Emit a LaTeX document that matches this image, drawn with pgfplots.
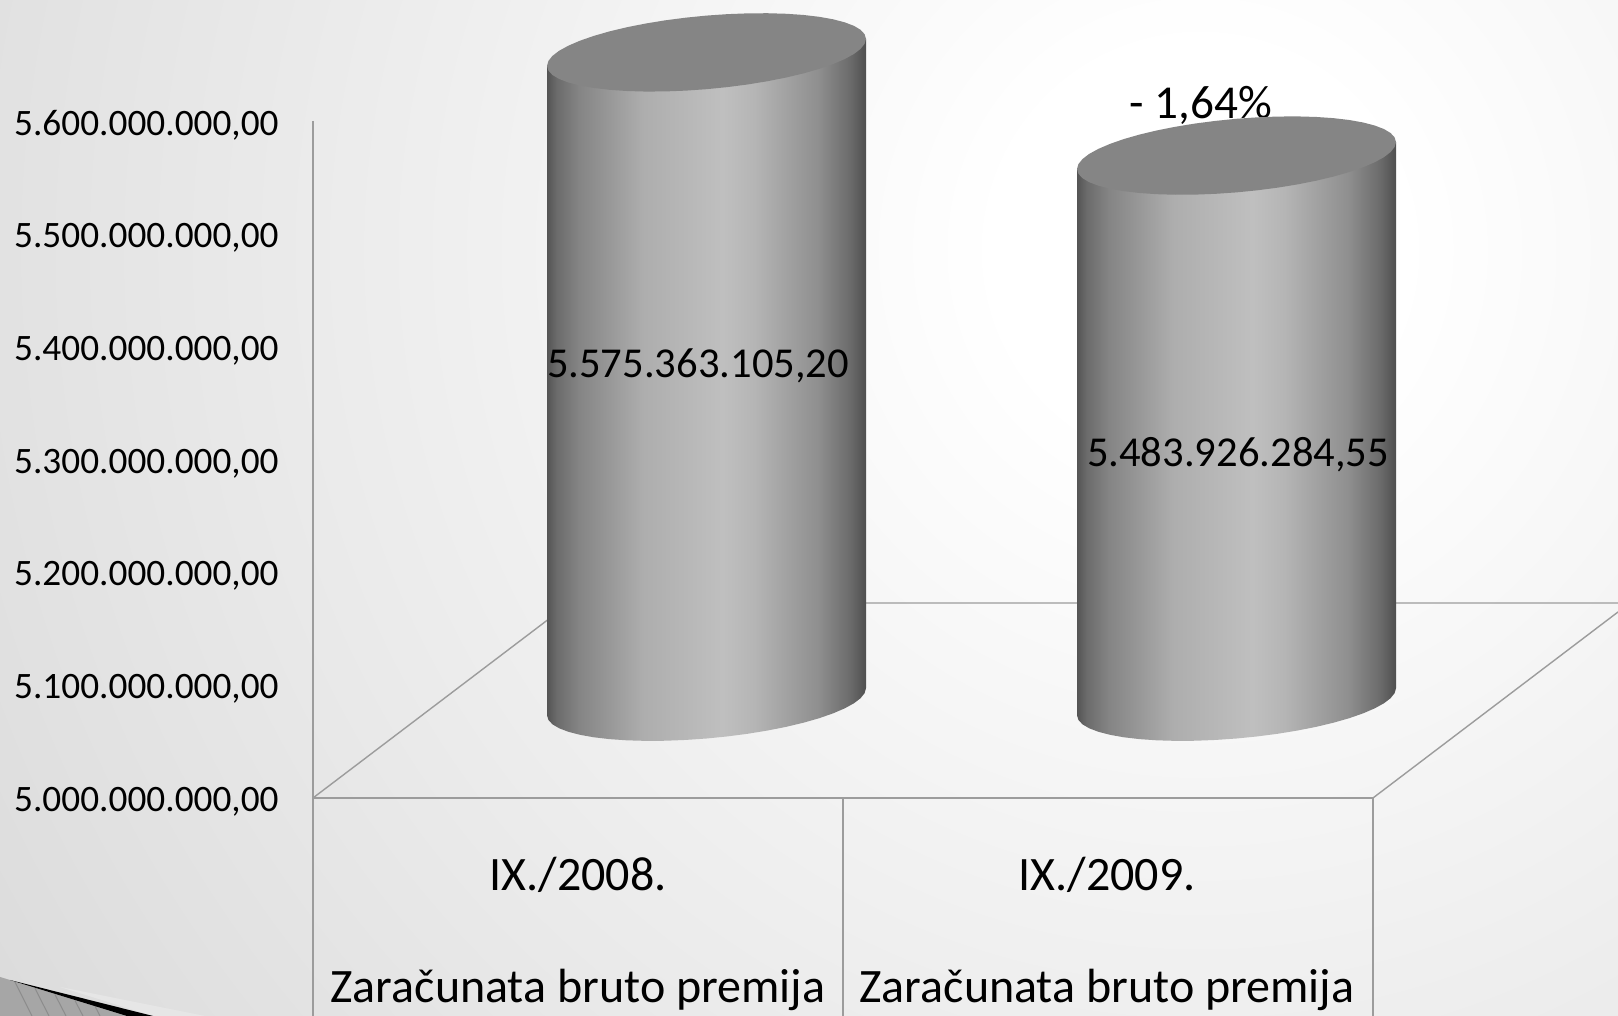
\documentclass[border=0pt]{standalone}
\usepackage{pgfplots}
\pgfplotsset{compat=1.18}
\usepackage{pgfplotstable}
\usepackage{fontspec}
\setmainfont{Carlito}
\definecolor{axisgray}{HTML}{9C9C9C}
\definecolor{capgray}{HTML}{858585}
\pgfdeclarehorizontalshading{cylshade}{100bp}{
 rgb(0bp)=(0.33,0.33,0.33); rgb(25bp)=(0.33,0.33,0.33);
 rgb(26.5bp)=(0.42,0.42,0.42); rgb(30bp)=(0.52,0.52,0.52);
 rgb(40bp)=(0.68,0.68,0.68); rgb(52.5bp)=(0.75,0.75,0.75);
 rgb(57.5bp)=(0.71,0.71,0.71); rgb(67.5bp)=(0.56,0.56,0.56);
 rgb(72.5bp)=(0.42,0.42,0.42); rgb(75bp)=(0.31,0.31,0.31);
 rgb(100bp)=(0.31,0.31,0.31)}
\pgfdeclareradialshading{bgshade}{\pgfpoint{0bp}{0bp}}{
 rgb(0bp)=(1,1,1); rgb(3.6bp)=(1,1,1); rgb(25bp)=(0.863,0.863,0.863); rgb(50bp)=(0.80,0.80,0.80)}
% cylinder outline, offsets in reference pixels from the cylinder axis
\pgfplotstableread{
dx dy h
-159.5 -13.5 1
-159.5 -13.5 0
-158.1 -18.19 0
-154.1 -22.56 0
-147.4 -26.55 0
-138.1 -30.09 0
-126.5 -33.11 0
-112.8 -35.57 0
-97.1 -37.42 0
-79.75 -38.62 0
-61 -39.17 0
-41.3 -39.04 0
-20.8 -38.24 0
0 -36.8 0
20.8 -34.72 0
41.3 -32.06 0
61 -28.83 0
79.75 -25.12 0
97.1 -20.98 0
112.8 -16.47 0
126.5 -11.69 0
138.1 -6.71 0
147.4 -1.61 0
154.1 3.52 0
158.1 8.58 0
159.5 13.5 0
159.5 13.5 1
}\cylbody
\pgfplotstableread{
dx dy
159.5 13.5
158.1 18.19
154.1 22.56
147.4 26.55
138.1 30.09
126.5 33.11
112.8 35.57
97.1 37.42
79.75 38.62
61 39.17
41.3 39.04
20.8 38.24
0 36.8
-20.8 34.72
-41.3 32.06
-61 28.83
-79.75 25.12
-97.1 20.98
-112.8 16.47
-126.5 11.69
-138.1 6.71
-147.4 1.61
-154.1 -3.52
-158.1 -8.58
-159.5 -13.5
-158.1 -18.19
-154.1 -22.56
-147.4 -26.55
-138.1 -30.09
-126.5 -33.11
-112.8 -35.57
-97.1 -37.42
-79.75 -38.62
-61 -39.17
-41.3 -39.04
-20.8 -38.24
0 -36.8
20.8 -34.72
41.3 -32.06
61 -28.83
79.75 -25.12
97.1 -20.98
112.8 -16.47
126.5 -11.69
138.1 -6.71
147.4 -1.61
154.1 3.52
158.1 8.58
}\cylcap
\newcommand\cylinder[2]{%
 \addplot[draw=none,shading=cylshade,forget plot] table[x expr=\thisrow{dx}+#1,y expr=5085.3+\thisrow{h}*(#2-5000)+\thisrow{dy}*0.8861]{\cylbody} --cycle;
 \addplot[draw=none,fill=capgray,forget plot] table[x expr=\thisrow{dx}+#1,y expr=#2+85.3+\thisrow{dy}*0.8861]{\cylcap} --cycle;
}
\begin{document}
\begin{tikzpicture}[x=1pt,y=1pt]
\useasboundingbox (0,0) rectangle (809,508);
\begin{scope}
\clip (0,0) rectangle (809,508);
\shade[shading=bgshade] (-100,-317) rectangle (1300,1083);
\end{scope}
\begin{axis}[
 at={(0pt,0pt)},anchor=south west,
 scale only axis,width=809pt,height=508pt,
 xmin=0,xmax=1618,ymin=4806.8,ymax=5707.1,
 clip=false,
 axis line style={draw=none},
 tick style={draw=none},
 major tick length=0pt,
 ytick={5000,5100,5200,5300,5400,5500,5600},
 yticklabels={5.000.000.000{,}00,5.100.000.000{,}00,5.200.000.000{,}00,5.300.000.000{,}00,5.400.000.000{,}00,5.500.000.000{,}00,5.600.000.000{,}00},
 yticklabel style={anchor=east,inner sep=0pt,xshift=139.5pt,yshift=-2pt,font=\fontsize{18.65}{20}\selectfont,text=black},
 xtick={578,1107},
 xticklabels={{IX./2008.\\Zaračunata bruto premija},{IX./2009.\\Zaračunata bruto premija}},
 xticklabel style={anchor=north,align=center,inner sep=0pt,yshift=79.5pt,font=\fontsize{24}{55.7}\selectfont,text=black},
]
% floor and walls
\addplot[axisgray,line width=0.8pt,forget plot] coordinates {(313,5600) (313,4806.8)};
\addplot[axisgray,line width=0.8pt,forget plot] coordinates {(313,5000) (1373,5000)};
\addplot[axisgray,line width=0.8pt,forget plot] coordinates {(843,5000) (843,4806.8)};
\addplot[axisgray,line width=0.8pt,forget plot] coordinates {(1373,5000) (1373,4806.8)};
\addplot[axisgray,line width=0.7pt,forget plot] coordinates {(313,5000) (570,5172.8) (1618,5172.8)};
\addplot[axisgray,line width=0.7pt,forget plot] coordinates {(1373,5000) (1618,5164.8)};
% decoration, lower left
\addplot[draw=none,fill=black!2!white!92!black,forget plot] coordinates {(60,4832.5) (153,4806.8) (205,4806.8)} --cycle;
\addplot[draw=none,fill=black!35,forget plot] coordinates {(0,4841.4) (127,4806.8) (0,4806.8)} --cycle;
\addplot[black!45,line width=0.5pt,forget plot,unbounded coords=jump] coordinates {(15,4837) (32,4806.8) (nan,nan) (35,4831.3) (49,4806.8) (nan,nan) (55,4825.8) (66,4806.8) (nan,nan) (75,4820.4) (83,4806.8) (nan,nan) (95,4815.5) (100,4806.8)};
\addplot[draw=none,fill=black,forget plot] coordinates {(10,4838.7) (153,4806.8) (127,4806.8)} --cycle;
% percentage label sits behind the cylinder top
\node[anchor=base,font=\fontsize{23.6}{26}\selectfont] at (axis cs:1200.7,5602.5) {- 1,64\%};
\cylinder{706.5}{5575.3631052}
\cylinder{1236.5}{5483.92628455}
\node[anchor=base,font=\fontsize{21.3}{24}\selectfont] at (axis cs:698,5372.4) {5.575.363.105,20};
\node[anchor=base,font=\fontsize{21.3}{24}\selectfont] at (axis cs:1238,5293.6) {5.483.926.284,55};
\end{axis}
\end{tikzpicture}
\end{document}
